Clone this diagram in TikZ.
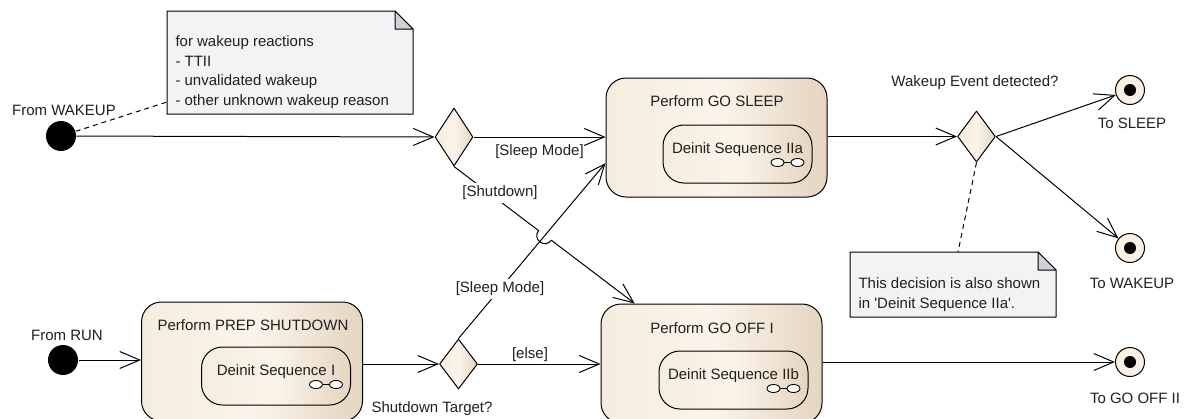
\documentclass[tikz,border=0pt]{standalone}
\usepackage{fontspec}
\setmainfont{Liberation Sans}
\usetikzlibrary{positioning, shapes, arrows.meta, calc}

\definecolor{stateLight}{RGB}{251,244,234}
\definecolor{stateMid}{RGB}{246,236,222}
\definecolor{stateDark}{RGB}{229,213,192}
\definecolor{noteFill}{RGB}{245,242,246}
\definecolor{foldFill}{RGB}{210,207,214}
\definecolor{endFill}{RGB}{249,239,226}
\definecolor{inkGray}{RGB}{32,32,32}

\tikzset{
  txt/.style={font=\fontsize{15}{19.5}\selectfont, text=inkGray, inner sep=1pt},
  edgelbl/.style={txt, fill=white, inner sep=3pt},
  notetext/.style={txt, align=left},
  flow/.style={-{Straight Barb[length=20pt, width=17pt]}},
  hint/.style={line width=1pt, dash pattern=on 5pt off 4pt},
  startdot/.style={circle, fill=black, minimum size=30pt, inner sep=0pt},
  finalnode/.style={circle, draw, fill=endFill, minimum size=29pt, inner sep=0pt,
    path picture={\fill[black] (path picture bounding box.center) circle (6pt);}},
  statebox/.style={rectangle, rounded corners=20pt, draw, left color=stateMid,
    right color=stateDark, middle color=stateLight, minimum width=221pt,
    minimum height=119pt, inner sep=0pt},
  subbox/.style={txt, rectangle, rounded corners=21pt, draw, left color=stateMid,
    right color=stateDark, middle color=stateLight, minimum width=149pt,
    minimum height=58pt, text height=11pt, text depth=12pt},
  decision/.style={diamond, draw, left color=stateMid, right color=stateDark,
    middle color=stateLight, minimum width=38pt, minimum height=51pt, inner sep=0pt}
}

% note sheet with folded corner
\newcommand{\notesheet}[4]{%
  \filldraw[fill=noteFill] (#1,#2) -- (#3-18,#2) -- (#3,#2+18) -- (#3,#4) -- (#1,#4) -- cycle;
  \filldraw[fill=foldFill] (#3-18,#2) -- (#3-18,#2+18) -- (#3,#2+18) -- cycle;}
% link icon of a sub machine
\newcommand{\subicon}[1]{%
  \filldraw[fill=white, line width=0.9pt] ([shift={(-25,-21)}]#1.south east)
    ++(-10,0) ellipse (6.5 and 4) ++(6.5,0) -- ++(7,0) ++(6.5,0) ellipse (6.5 and 4);}

\begin{document}
\begin{tikzpicture}[x=1pt, y=-1pt, line width=1pt, line join=round]
\useasboundingbox (0,0) rectangle (1187,418);
\fill[white] (0,0) rectangle (1187,418);
\clip (0,0) rectangle (1187,418);

% notes
\notesheet{167}{11}{413}{114}
\notesheet{850}{252}{1056}{317}
\node[notetext, anchor=west] (wakeNote) at (174,72)
  {for wakeup reactions\\- TTII\\- unvalidated wakeup\\- other unknown wakeup reason};
\node[notetext, anchor=west] (decNote) at (857,294.5)
  {This decision is also shown\\in \textquotesingle Deinit Sequence IIa\textquotesingle.};
\coordinate (wakeHook) at (167,102);
\coordinate (decHook) at (958,252);

% initial nodes
\node[startdot] (wakeStart) at (61,136) {};
\node[txt] (wakeStartLbl) at (64,110) {From WAKEUP};
\node[startdot] (runStart) at (63,360) {};
\node[txt] (runStartLbl) at (67,335) {From RUN};

% states
\node[statebox] (sleepState) at (716.5,137.5) {};
\node[txt] (sleepTitle) at (717,101) {Perform GO SLEEP};
\node[subbox] (sleepSub) at (737.5,154) {Deinit Sequence IIa};
\subicon{sleepSub}
\node[statebox] (prepState) at (252,361.5) {};
\node[txt] (prepTitle) at (253,325) {Perform PREP SHUTDOWN};
\node[subbox] (prepSub) at (276,376) {Deinit Sequence I};
\subicon{prepSub}
\node[statebox] (offState) at (711.5,363.5) {};
\node[txt] (offTitle) at (712,328) {Perform GO OFF I};
\node[subbox] (offSub) at (733.5,380) {Deinit Sequence IIb};
\subicon{offSub}

% decisions
\node[decision, minimum height=58pt] (wakeDec) at (454,137) {};
\node[decision, minimum height=50pt] (targetDec) at (458.5,364) {};
\node[txt] (targetLbl) at (432,409) {Shutdown Target?};
\node[decision] (eventDec) at (976.5,136.5) {};
\node[txt] (eventLbl) at (975,83) {Wakeup Event detected?};

% final nodes
\node[finalnode] (toSleep) at (1130,90) {};
\node[txt] (toSleepLbl) at (1132,123) {To SLEEP};
\node[finalnode] (toWake) at (1130,248) {};
\node[txt] (toWakeLbl) at (1132,283) {To WAKEUP};
\node[finalnode] (toOff) at (1130,362) {};
\node[txt] (toOffLbl) at (1135,398) {To GO OFF II};

% flows
\draw[flow] (wakeStart) -- (wakeDec.west);
\draw[flow] (wakeDec.east) -- (sleepState.west |- wakeDec.east);
\node[txt] (sleepLblA) at (539.5,152) {[Sleep Mode]};
\coordinate (hop) at (intersection of wakeDec.south--offState.142 and targetDec.north--sleepState.193);
\coordinate (hopIn) at ($(hop)!8pt!(wakeDec.south)$);
\coordinate (hopOut) at ($(hop)!8pt!(offState.142)$);
\draw[flow] (targetDec.north) -- (sleepState.193);
\draw[flow] (wakeDec.south) -- (hopIn)
  .. controls ($(hopIn)!11pt!-90:(hopOut)$) and ($(hopOut)!11pt!90:(hopIn)$) .. (hopOut)
  -- (offState.142);
\node[edgelbl] (shutLbl) at (500,193) {[Shutdown]};
\node[edgelbl] (sleepLblB) at (500,289) {[Sleep Mode]};
\draw[flow] (runStart) -- (prepState.west |- runStart);
\draw[flow] (prepState.east |- targetDec) -- (targetDec.west);
\draw[flow] (targetDec.east) -- (offState.west |- targetDec);
\node[txt] (elseLbl) at (530,355) {[else]};
\draw[flow] (sleepState.east |- eventDec) -- (eventDec.west);
\draw[flow] (eventDec.east) -- (toSleep);
\draw[flow] (eventDec.east) -- (toWake);
\draw[flow] (offState.east |- toOff) -- (toOff);

% note links
\draw[hint] (wakeStart) -- (wakeHook);
\draw[hint] (eventDec.south) -- (decHook);
\end{tikzpicture}
\end{document}
